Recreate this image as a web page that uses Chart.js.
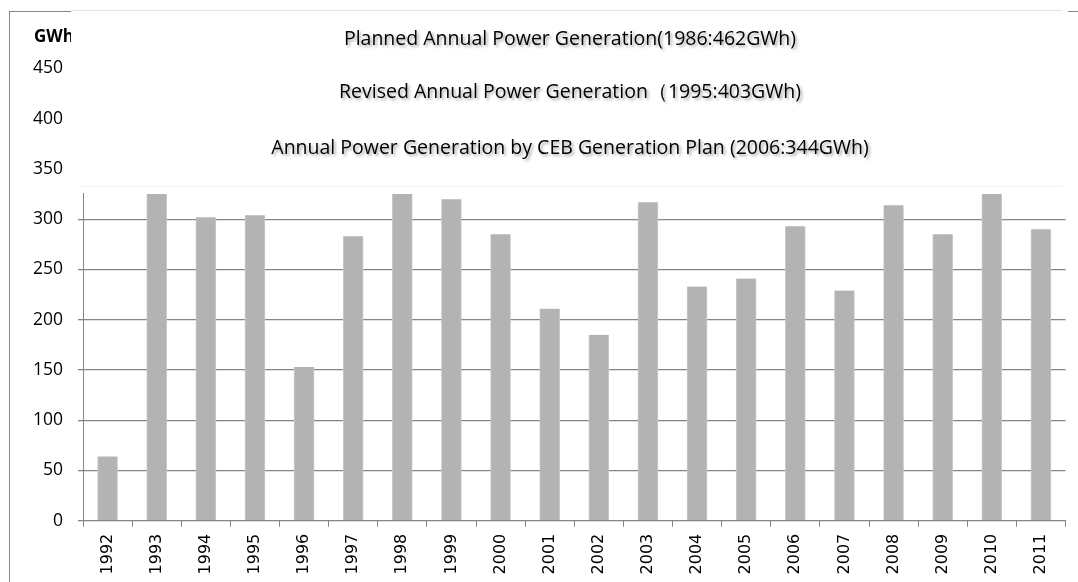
<!DOCTYPE html>
<html>
<head>
<meta charset="utf-8">
<script src="https://cdn.jsdelivr.net/npm/chart.js@4"></script>
<style>
  html, body { margin: 0; padding: 0; background: #fff; }
  #wrap { width: 1078px; height: 582px; position: relative; }
</style>
</head>
<body>
<div id="wrap"><canvas id="myChart"></canvas></div>
<script>
  const years = [
    '1992', '1993', '1994', '1995', '1996', '1997', '1998', '1999', '2000', '2001',
    '2002', '2003', '2004', '2005', '2006', '2007', '2008', '2009', '2010', '2011'
  ];
  const generation = [64, 325, 302, 304, 153, 283, 325, 320, 285, 211, 185, 317, 233, 241, 293, 229, 314, 285, 325, 290];
  const yTicks = [0, 50, 100, 150, 200, 250, 300, 350, 400, 450];
  const unitLabel = 'GWh';
  const notes = [
    'Planned Annual Power Generation(1986:462GWh)',
    'Revised Annual Power Generation\uFF081995:403GWh)',
    'Annual Power Generation by CEB Generation Plan (2006:344GWh)'
  ];

  // frame, unit label and the text box with the reference levels
  const overlay = {
    id: 'overlay',
    afterDraw(chart) {
      const ctx = chart.ctx;
      ctx.save();
      ctx.strokeStyle = '#858585';
      ctx.lineWidth = 1;
      ctx.strokeRect(9.5, 11.5, 1200, 700);

      ctx.fillStyle = '#000';
      ctx.font = 'bold 17px "Open Sans"';
      ctx.textBaseline = 'middle';
      ctx.fillText(unitLabel, 34, 37);

      ctx.fillStyle = '#fff';
      ctx.fillRect(71, 10, 997, 183);
      ctx.strokeStyle = '#e2e2e2';
      ctx.beginPath();
      ctx.moveTo(71, 10.5); ctx.lineTo(1062, 10.5);
      ctx.stroke();
      ctx.strokeStyle = '#f2f2f2';
      ctx.beginPath();
      ctx.moveTo(80, 186.5); ctx.lineTo(1062, 186.5);
      ctx.stroke();

      ctx.font = '19.5px "Open Sans"';
      ctx.textAlign = 'center';
      ctx.fillStyle = '#000';
      ctx.shadowColor = 'rgba(0,0,0,0.35)';
      ctx.shadowOffsetX = 2;
      ctx.shadowOffsetY = 2;
      ctx.shadowBlur = 3;
      const rows = [39, 92, 148];
      notes.forEach((t, i) => ctx.fillText(t, 570, rows[i]));
      ctx.restore();
    }
  };

  const data = {
    labels: years,
    datasets: [
      {
        label: 'Annual Power Generation',
        backgroundColor: '#b3b3b3',
        borderColor: '#c9c9c9',
        borderWidth: { left: 1, right: 1, top: 0, bottom: 0 },
        barThickness: 20,
        data: generation
      }
    ]
  };

  const config = {
    type: 'bar',
    data: data,
    options: {
      responsive: true,
      maintainAspectRatio: false,
      animation: false,
      layout: { padding: { top: 68.5, right: 12.5, bottom: 0, left: 0 } },
      plugins: {
        legend: { display: false },
        tooltip: { enabled: false }
      },
      scales: {
        x: {
          offset: true,
          grid: {
            offset: true,
            drawOnChartArea: false,
            drawTicks: true,
            tickLength: 6,
            color: '#858585'
          },
          border: { color: '#858585', width: 1 },
          ticks: {
            minRotation: 90,
            maxRotation: 90,
            padding: 7,
            color: '#000',
            font: { family: 'DejaVu Sans', size: 16 }
          },
          afterFit(scale) { scale.height = 61.3; }
        },
        y: {
          min: 0,
          max: 450,
          afterBuildTicks(scale) { scale.ticks = yTicks.map(v => ({ value: v })); },
          grid: {
            color: '#858585',
            lineWidth: 1.3,
            tickLength: 5
          },
          border: { color: '#858585', width: 1 },
          ticks: {
            padding: 15,
            color: '#000',
            font: { family: 'Open Sans', size: 17.5 }
          },
          afterFit(scale) { scale.width = 83; }
        }
      }
    },
    plugins: [overlay]
  };

  new Chart(document.getElementById('myChart'), config);
</script>
</body>
</html>
